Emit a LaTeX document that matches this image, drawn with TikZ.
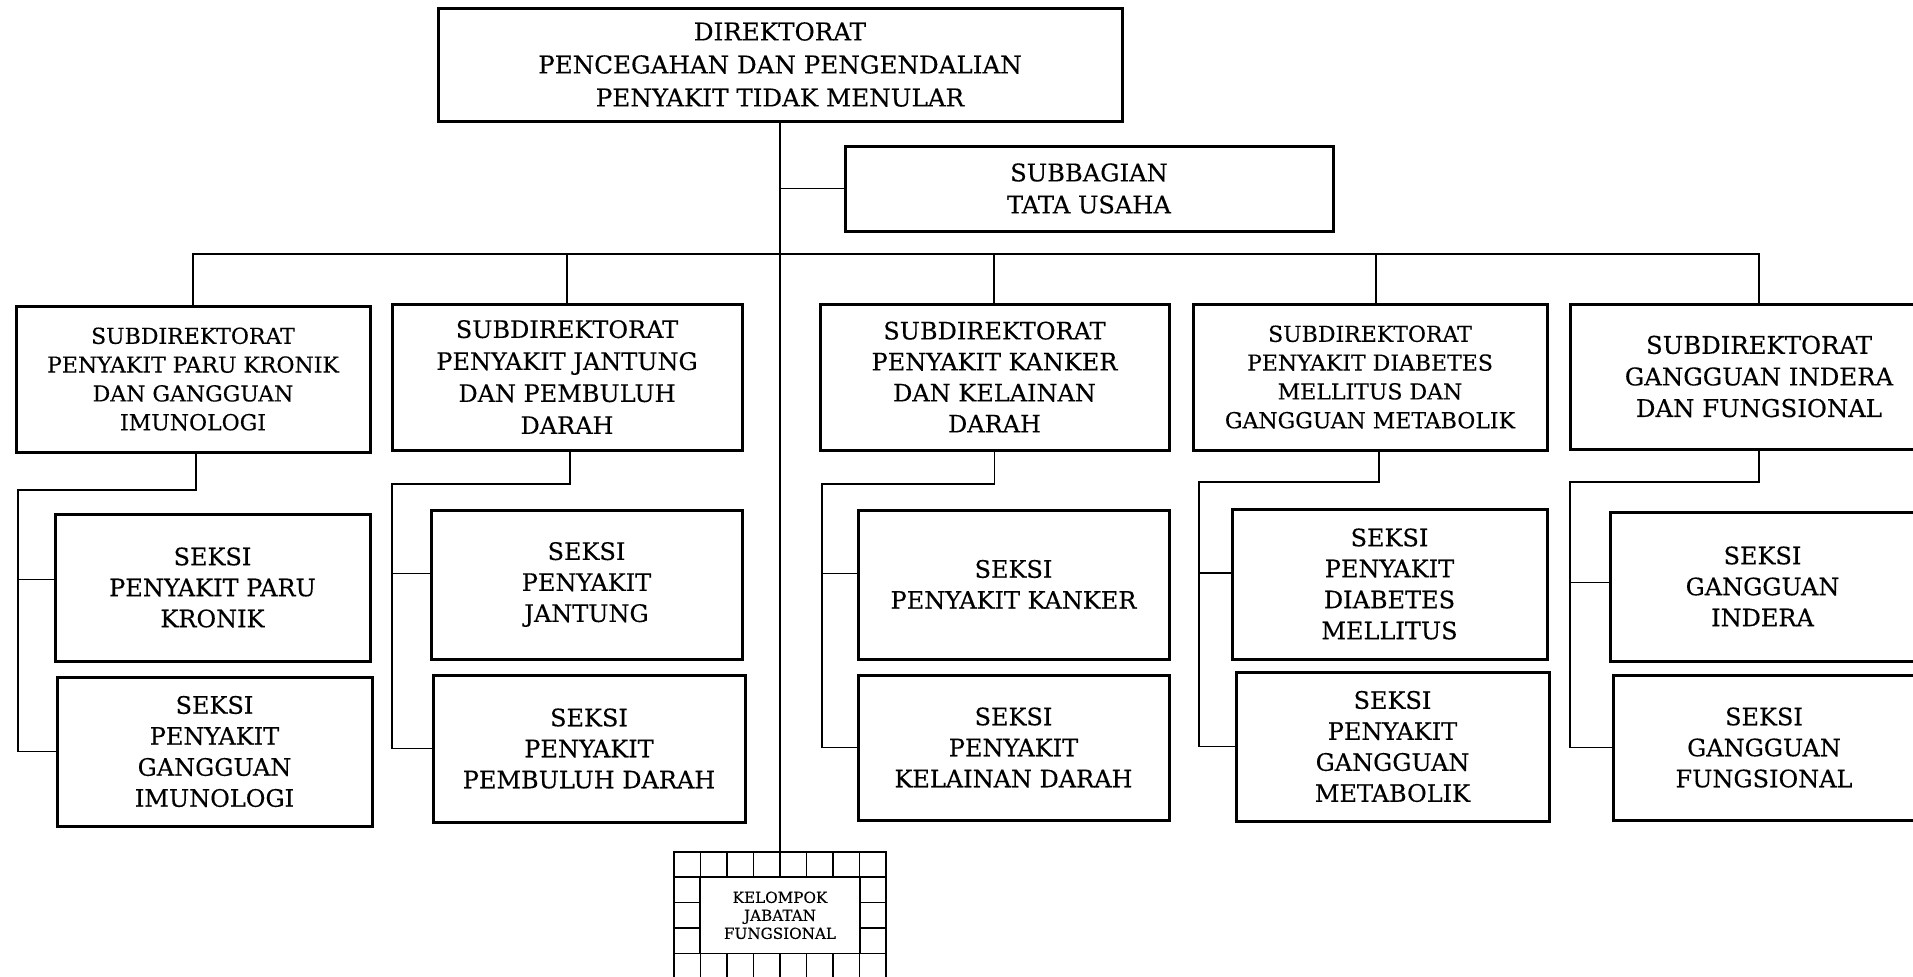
\documentclass[tikz,border=0pt]{standalone}
\usepackage{fontspec}
\setmainfont{DejaVu Serif}[FakeBold=0.3]
\usetikzlibrary{calc}

% box given by its corners (x1,y1) and (x2,y2), in pixel units
\newcommand\orgbox[7]{%
  \pgfmathsetmacro\obw{((#4)-(#2))*0.5}%
  \pgfmathsetmacro\obh{((#5)-(#3))*0.5}%
  \node[#6,minimum width=\obw pt,minimum height=\obh pt] (#1)
    at ({((#2)+(#4))/2},{((#3)+(#5))/2}) {#7};}

\begin{document}
\begin{tikzpicture}[x=0.5pt,y=-0.5pt,
  box/.style={draw,line width=1.5pt,rectangle,inner sep=0pt,align=center},
  gridbox/.style={draw,line width=0.8pt,rectangle,inner sep=0pt},
  plainbox/.style={rectangle,inner sep=0pt,align=center},
  conn/.style={line width=0.75pt},
  fsek/.style={font=\fontsize{12}{15.5}\selectfont},
  fsmall/.style={font=\fontsize{11}{14.4}\selectfont},
  ftop/.style={font=\fontsize{12.3}{16.5}\selectfont},
  ftiny/.style={font=\fontsize{7.6}{9}\selectfont}]

\fill[white] (0,0) rectangle (1913,976);
\useasboundingbox (0,0) rectangle (1913,976);
\clip (0,0) rectangle (1913,976);

% top level
\orgbox{dir}{438}{8}{1122}{121}{box,ftop}{DIREKTORAT\\PENCEGAHAN DAN PENGENDALIAN\\PENYAKIT TIDAK MENULAR}
\orgbox{sb}{845}{146}{1333}{231}{box,font=\fontsize{12.1}{16}\selectfont}{SUBBAGIAN\\TATA USAHA}

% subdirectorates
\orgbox{sd1}{16}{306}{370}{452}{box,fsmall}{SUBDIREKTORAT\\PENYAKIT PARU KRONIK\\DAN GANGGUAN\\IMUNOLOGI}
\orgbox{sd2}{392}{304}{742}{450}{box,font=\fontsize{12}{16}\selectfont}{SUBDIREKTORAT\\PENYAKIT JANTUNG\\DAN PEMBULUH\\DARAH}
\orgbox{sd3}{820}{304}{1169}{450}{box,fsek}{SUBDIREKTORAT\\PENYAKIT KANKER\\DAN KELAINAN\\DARAH}
\orgbox{sd4}{1193}{304}{1547}{450}{box,fsmall}{SUBDIREKTORAT\\PENYAKIT DIABETES\\MELLITUS DAN\\GANGGUAN METABOLIK}
\orgbox{sd5}{1570}{304}{1948}{449}{box,font=\fontsize{12.2}{15.8}\selectfont}{SUBDIREKTORAT\\GANGGUAN INDERA\\DAN FUNGSIONAL}

% sections
\orgbox{sk1}{55}{514}{370}{661}{box,fsek}{SEKSI\\PENYAKIT PARU\\KRONIK}
\orgbox{sk2}{57}{677}{372}{826}{box,fsek}{SEKSI\\PENYAKIT\\GANGGUAN\\IMUNOLOGI}
\orgbox{sk3}{431}{510}{742}{659}{box,fsek}{SEKSI\\PENYAKIT\\JANTUNG}
\orgbox{sk4}{433}{675}{745}{822}{box,fsek}{SEKSI\\PENYAKIT\\PEMBULUH DARAH}
\orgbox{sk5}{858}{510}{1169}{659}{box,fsek}{SEKSI\\PENYAKIT KANKER}
\orgbox{sk6}{858}{675}{1169}{820}{box,fsek}{SEKSI\\PENYAKIT\\KELAINAN DARAH}
\orgbox{sk7}{1232}{509}{1547}{659}{box,fsek}{SEKSI\\PENYAKIT\\DIABETES\\MELLITUS}
\orgbox{sk8}{1236}{672}{1549}{821}{box,fsek}{SEKSI\\PENYAKIT\\GANGGUAN\\METABOLIK}
\orgbox{sk9}{1610}{512}{1915}{661}{box,fsek}{SEKSI\\GANGGUAN\\INDERA}
\orgbox{sk10}{1613}{675}{1915}{820}{box,fsek}{SEKSI\\GANGGUAN\\FUNGSIONAL}

% functional group: framed grid of cells around a text panel
\orgbox{kgrid}{674}{852}{886}{978.6}{gridbox}{}
\orgbox{kjf}{700.5}{877.3}{859.5}{953.3}{plainbox,ftiny}{KELOMPOK\\JABATAN\\FUNGSIONAL}
\foreach \i in {1,...,7} {
  \draw[conn] ({674+26.5*\i},852) -- ({674+26.5*\i},877.3);
  \draw[conn] ({674+26.5*\i},953.3) -- ({674+26.5*\i},978.6);
}
\draw[conn] (kjf.north west) -- (kjf.north east) -- (kjf.south east) -- (kjf.south west) -- cycle;
\draw[conn] (kgrid.west |- kjf.north) -- (kjf.north west);
\draw[conn] (kjf.north east) -- (kgrid.east |- kjf.north);
\draw[conn] (kgrid.west |- kjf.south) -- (kjf.south west);
\draw[conn] (kjf.south east) -- (kgrid.east |- kjf.south);
\foreach \y in {902.6,928} {
  \draw[conn] (674,\y) -- (700.5,\y);
  \draw[conn] (859.5,\y) -- (886,\y);
}

% spine and staff unit
\draw[conn] (dir.south) -- (kgrid.north);
\draw[conn] (sb.west) -- (sb.west -| dir.south);

% bus to the subdirectorates
\coordinate (bus) at (780,254);
\draw[conn] (sd1.north) |- (bus) -| (sd5.north);
\draw[conn] (sd2.north) -- (sd2.north |- bus);
\draw[conn] ([xshift=-0.25pt]sd3.north) -- ([xshift=-0.25pt]sd3.north |- bus);
\draw[conn] ([xshift=3pt]sd4.north) -- ([xshift=3pt]sd4.north |- bus);

% each subdirectorate feeds its two sections
\coordinate (j1) at (18,490);
\coordinate (j2) at (392,484);
\coordinate (j3) at (822,484);
\coordinate (j4) at (1199,482);
\coordinate (j5) at (1570,482);
\foreach \g/\a/\b/\s/\t in {1/1/2/1.5/4, 2/3/4/1.5/5.5, 3/5/6/0/5.5, 4/7/8/4.5/5.5, 5/9/10/0/2} {
  \draw[conn] ([xshift=\s pt]sd\g.south) |- (j\g) |- (sk\b.west);
  \coordinate (t\a) at ([yshift=\t pt]sk\a.west);
  \draw[conn] (t\a) -- (t\a -| j\g);
}
\end{tikzpicture}
\end{document}
